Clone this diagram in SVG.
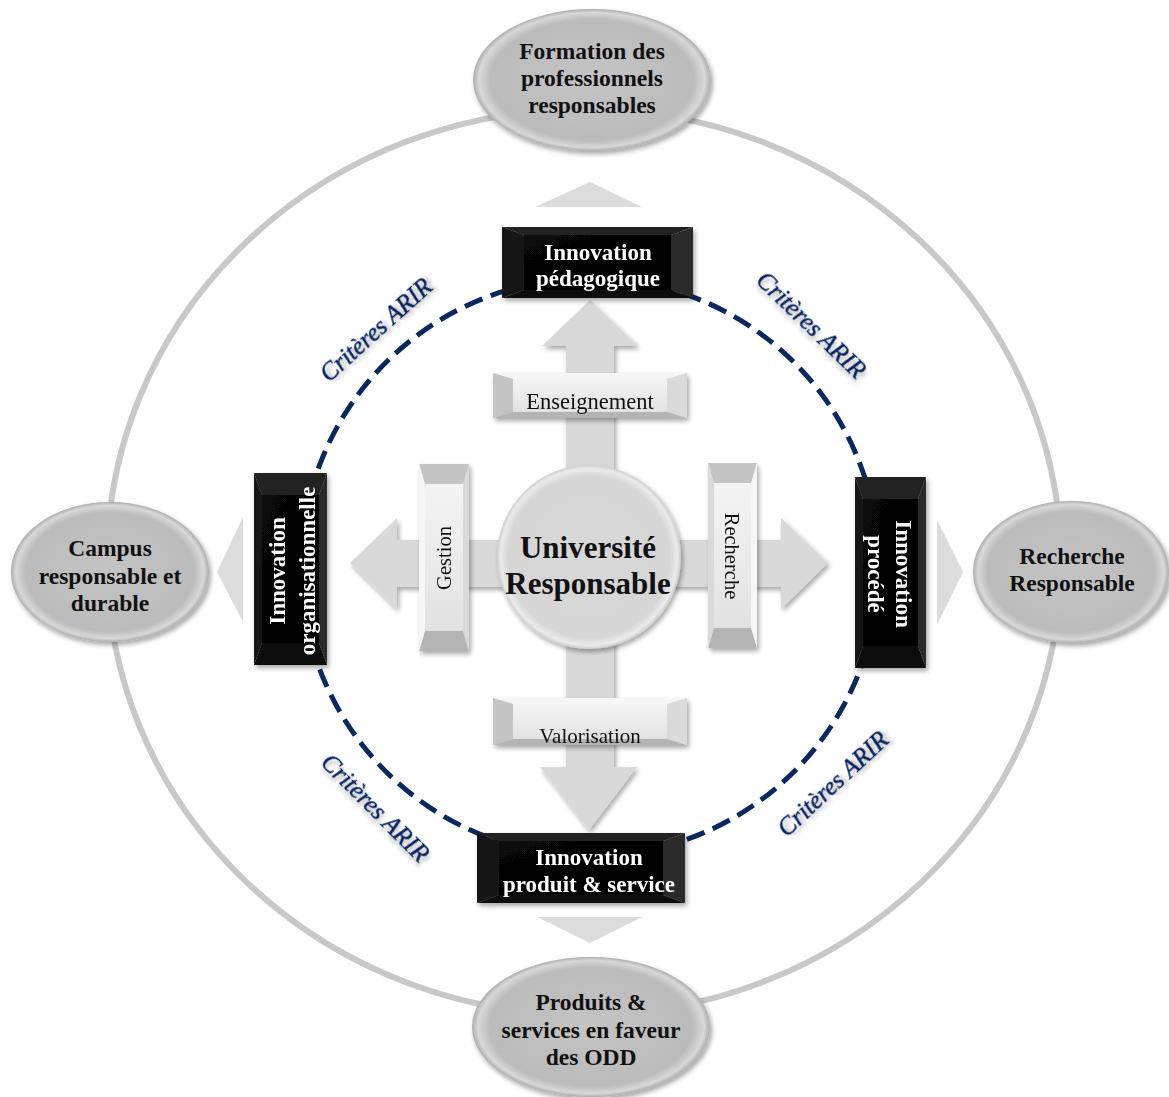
<svg xmlns="http://www.w3.org/2000/svg" width="1169" height="1097" viewBox="0 0 1169 1097">
<defs>
<style>
.ell{fill:url(#gEll);filter:url(#sh);}
.et{font-family:"Liberation Serif","Times New Roman",serif;font-weight:bold;font-size:23.5px;fill:#111;text-anchor:middle;}
.bt{font-family:"Liberation Serif","Times New Roman",serif;font-weight:bold;font-size:23px;fill:#fff;text-anchor:middle;}
.lt{font-family:"Liberation Serif","Times New Roman",serif;font-size:21px;fill:#111;text-anchor:middle;}
.crit{font-family:"Liberation Serif","Times New Roman",serif;font-style:italic;font-size:25px;fill:#061f5a;stroke:#061f5a;stroke-width:0.4;text-anchor:middle;filter:url(#tsh);}
.arr{fill:#d9d9d9;}
.tri{fill:#dcdcdc;}
.bT{fill:#202020}.bL{fill:#141414}.bR{fill:#2c2c2c}.bB{fill:#090909}.bI{fill:url(#gBlk)}
.lT{fill:#f6f6f6}.lL{fill:#c4c4c4}.lR{fill:#dadada}.lB{fill:#b4b4b4}.lI{fill:url(#gLt)}
</style>
<radialGradient id="gEll" cx="50%" cy="50%" r="50%">
<stop offset="0" stop-color="#c4c4c4"/>
<stop offset="0.85" stop-color="#bbbbbb"/>
<stop offset="0.95" stop-color="#d8d8d8"/>
<stop offset="1" stop-color="#adadad"/>
</radialGradient>
<radialGradient id="gCirc" cx="50%" cy="50%" r="50%">
<stop offset="0" stop-color="#d8d8d8"/>
<stop offset="0.88" stop-color="#d6d6d6"/>
<stop offset="0.96" stop-color="#ebebeb"/>
<stop offset="1" stop-color="#cdcdcd"/>
</radialGradient>
<linearGradient id="gBlk" x1="0" y1="0" x2="1" y2="1">
<stop offset="0" stop-color="#080808"/>
<stop offset="1" stop-color="#000"/>
</linearGradient>
<linearGradient id="gLt" x1="0" y1="0" x2="0" y2="1">
<stop offset="0" stop-color="#f4f4f4"/>
<stop offset="1" stop-color="#e2e2e2"/>
</linearGradient>
<filter id="sh" x="-20%" y="-20%" width="140%" height="140%">
<feGaussianBlur in="SourceAlpha" stdDeviation="2.5"/>
<feOffset dx="2" dy="3" result="o"/>
<feComponentTransfer><feFuncA type="linear" slope="0.35"/></feComponentTransfer>
<feMerge><feMergeNode/><feMergeNode in="SourceGraphic"/></feMerge>
</filter>
<filter id="tsh" x="-20%" y="-40%" width="140%" height="180%">
<feGaussianBlur in="SourceAlpha" stdDeviation="2"/>
<feOffset dx="3" dy="3"/>
<feComponentTransfer><feFuncA type="linear" slope="0.3"/></feComponentTransfer>
<feMerge><feMergeNode/><feMergeNode in="SourceGraphic"/></feMerge>
</filter>
</defs>
<rect width="1169" height="1097" fill="#fff"/>

<g id="connectors">
<ellipse cx="584" cy="562" rx="477" ry="453" fill="none" stroke="#c8c8c8" stroke-width="6"/>
<circle cx="590" cy="567" r="289" fill="none" stroke="#0b2760" stroke-width="5" stroke-dasharray="19 9"/>
<polygon class="tri" points="535,207 642,207 590,182"/>
<polygon class="tri" points="537,917 642,917 590,943"/>
<polygon class="tri" points="243,517 243,622 217,572"/>
<polygon class="tri" points="937,520 937,625 963,572"/>
<g id="cross" filter="url(#sh)">
<polygon class="arr" points="566,346 542,346 590,300 638,346 614,346 614,540 781,540 781,518 828,563 781,609 781,587 614,587 614,767 637,767 589,830 540,767 566,767 566,587 397,587 397,609 350,563 397,518 397,540 566,540"/>
</g>
</g>

<g id="n-centre">
<circle cx="589" cy="557" r="92" fill="url(#gCirc)" filter="url(#sh)"/>
<text class="et" style="font-size:31px" x="588" y="558">Université</text>
<text class="et" style="font-size:31px" x="588" y="594">Responsable</text>
</g>

<g id="n-enseignement" filter="url(#sh)">
<polygon class="lT" points="493,373 687,373 667,379 513,379"/>
<polygon class="lB" points="493,418 687,418 667,412 513,412"/>
<polygon class="lL" points="493,373 513,379 513,412 493,418"/>
<polygon class="lR" points="687,373 667,379 667,412 687,418"/>
<rect class="lI" x="513" y="379" width="154" height="33"/>
<text class="lt" x="590" y="409" style="font-size:22.5px">Enseignement</text>
</g>

<g id="n-valorisation" filter="url(#sh)">
<polygon class="lT" points="493,698 687,698 667,704 513,704"/>
<polygon class="lB" points="493,745 687,745 667,739 513,739"/>
<polygon class="lL" points="493,698 513,704 513,739 493,745"/>
<polygon class="lR" points="687,698 667,704 667,739 687,745"/>
<rect class="lI" x="513" y="704" width="154" height="35"/>
<text class="lt" x="590" y="743">Valorisation</text>
</g>

<g id="n-gestion" filter="url(#sh)">
<polygon class="lL" points="419,464 469,464 463,484 425,484"/>
<polygon class="lB" points="419,651 469,651 463,631 425,631"/>
<polygon class="lT" points="419,464 425,484 425,631 419,651"/>
<polygon class="lR" points="469,464 463,484 463,631 469,651"/>
<rect class="lI" x="425" y="484" width="38" height="147"/>
<text class="lt" transform="translate(444,558) rotate(-90)" x="0" y="7" style="font-size:20.5px">Gestion</text>
</g>

<g id="n-recherche" filter="url(#sh)">
<polygon class="lL" points="708,463 757,463 751,483 714,483"/>
<polygon class="lB" points="708,648 757,648 751,628 714,628"/>
<polygon class="lR" points="708,463 714,483 714,628 708,648"/>
<polygon class="lT" points="757,463 751,483 751,628 757,648"/>
<rect class="lI" x="714" y="483" width="37" height="145"/>
<text class="lt" transform="translate(732,556) rotate(90)" x="0" y="7" style="font-size:20.5px">Recherche</text>
</g>

<g id="n-pedagogique" filter="url(#sh)">
<polygon class="bT" points="502,227 693,227 671,235 524,235"/>
<polygon class="bB" points="502,298 693,298 671,290 524,290"/>
<polygon class="bL" points="502,227 524,235 524,290 502,298"/>
<polygon class="bR" points="693,227 671,235 671,290 693,298"/>
<rect class="bI" x="524" y="235" width="147" height="55"/>
<text class="bt" x="598" y="260">Innovation</text>
<text class="bt" x="598" y="286">pédagogique</text>
</g>

<g id="n-produit" filter="url(#sh)">
<polygon class="bT" points="477,833 685,833 663,841 499,841"/>
<polygon class="bB" points="477,903 685,903 663,895 499,895"/>
<polygon class="bL" points="477,833 499,841 499,895 477,903"/>
<polygon class="bR" points="685,833 663,841 663,895 685,903"/>
<rect class="bI" x="499" y="841" width="164" height="54"/>
<text class="bt" x="589" y="865">Innovation</text>
<text class="bt" x="589" y="892">produit &amp; service</text>
</g>

<g id="n-organisationnelle" filter="url(#sh)">
<polygon class="bT" points="254,473 327,473 319,495 262,495"/>
<polygon class="bB" points="254,665 327,665 319,643 262,643"/>
<polygon class="bL" points="254,473 262,495 262,643 254,665"/>
<polygon class="bR" points="327,473 319,495 319,643 327,665"/>
<rect class="bI" x="262" y="495" width="57" height="148"/>
<g transform="translate(290,571) rotate(-90)">
<text class="bt" x="0" y="-5">Innovation</text>
<text class="bt" x="0" y="25">organisationnelle</text>
</g>
</g>

<g id="n-procede" filter="url(#sh)">
<polygon class="bT" points="855,477 926,477 918,499 863,499"/>
<polygon class="bB" points="855,668 926,668 918,646 863,646"/>
<polygon class="bL" points="855,477 863,499 863,646 855,668"/>
<polygon class="bR" points="926,477 918,499 918,646 926,668"/>
<rect class="bI" x="863" y="499" width="55" height="147"/>
<g transform="translate(890,574) rotate(90)">
<text class="bt" x="0" y="-6">Innovation</text>
<text class="bt" x="0" y="22">procédé</text>
</g>
</g>

<g id="n-formation">
<ellipse class="ell" cx="592" cy="80" rx="119" ry="71"/>
<text class="et" x="592" y="59">Formation des</text>
<text class="et" x="592" y="86">professionnels</text>
<text class="et" x="592" y="113">responsables</text>
</g>

<g id="n-campus">
<ellipse class="ell" cx="110" cy="572" rx="99" ry="70"/>
<text class="et" x="110" y="556">Campus</text>
<text class="et" x="110" y="584">responsable et</text>
<text class="et" x="110" y="611">durable</text>
</g>

<g id="n-rechresp">
<ellipse class="ell" cx="1071" cy="572" rx="98" ry="71"/>
<text class="et" x="1072" y="564">Recherche</text>
<text class="et" x="1072" y="591">Responsable</text>
</g>

<g id="n-produits">
<ellipse class="ell" cx="591" cy="1027" rx="119" ry="70"/>
<text class="et" x="591" y="1010">Produits &amp;</text>
<text class="et" x="591" y="1038">services en faveur</text>
<text class="et" x="591" y="1065">des ODD</text>
</g>

<g id="labels">
<text class="crit" transform="translate(376,330) rotate(-42)" x="0" y="8">Critères ARIR</text>
<text class="crit" transform="translate(811,325) rotate(44)" x="0" y="8">Critères ARIR</text>
<text class="crit" transform="translate(375,808) rotate(45)" x="0" y="8">Critères ARIR</text>
<text class="crit" transform="translate(833,784) rotate(-43)" x="0" y="8">Critères ARIR</text>
</g>
</svg>
